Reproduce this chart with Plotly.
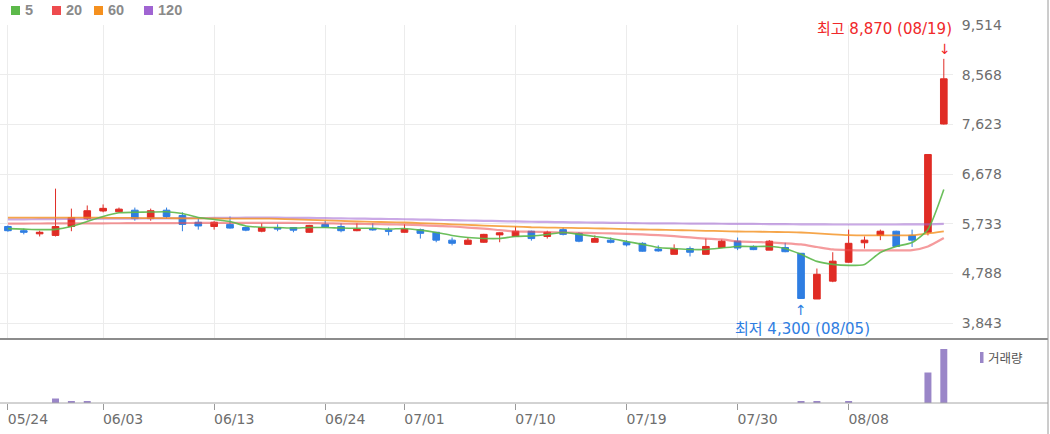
import plotly.graph_objects as go

# ---------------- data ----------------
dates = ["2024-05-24", "2024-05-27", "2024-05-28", "2024-05-29", "2024-05-30", "2024-05-31",
         "2024-06-03", "2024-06-04", "2024-06-05", "2024-06-07", "2024-06-10", "2024-06-11",
         "2024-06-12", "2024-06-13", "2024-06-14", "2024-06-17", "2024-06-18", "2024-06-19",
         "2024-06-20", "2024-06-21", "2024-06-24", "2024-06-25", "2024-06-26", "2024-06-27",
         "2024-06-28", "2024-07-01", "2024-07-02", "2024-07-03", "2024-07-04", "2024-07-05",
         "2024-07-08", "2024-07-09", "2024-07-10", "2024-07-11", "2024-07-12", "2024-07-15",
         "2024-07-16", "2024-07-17", "2024-07-18", "2024-07-19", "2024-07-22", "2024-07-23",
         "2024-07-24", "2024-07-25", "2024-07-26", "2024-07-29", "2024-07-30", "2024-07-31",
         "2024-08-01", "2024-08-02", "2024-08-05", "2024-08-06", "2024-08-07", "2024-08-08",
         "2024-08-09", "2024-08-12", "2024-08-13", "2024-08-14", "2024-08-16", "2024-08-19"]

opens = [5680, 5600, 5540, 5510, 5680, 5830, 5975, 5960, 5990, 5830, 5990, 5890, 5760, 5680, 5720,
         5660, 5590, 5660, 5660, 5570, 5720, 5680, 5600, 5640, 5610, 5570, 5620, 5570, 5420, 5340,
         5380, 5520, 5490, 5590, 5490, 5620, 5550, 5380, 5420, 5380, 5360, 5250, 5150, 5260, 5150,
         5280, 5400, 5300, 5230, 5280, 5170, 4300, 4640, 5000, 5370, 5510, 5590, 5510, 5570, 7630]
highs = [5700, 5640, 5600, 6400, 6020, 6080, 6100, 6040, 6040, 6020, 6040, 5950, 5830, 5780, 5870,
         5680, 5740, 5720, 5670, 5710, 5790, 5740, 5740, 5740, 5660, 5720, 5640, 5570, 5470, 5470,
         5540, 5570, 5680, 5600, 5600, 5660, 5570, 5510, 5470, 5420, 5380, 5320, 5340, 5300, 5450,
         5430, 5470, 5320, 5420, 5370, 5170, 4880, 5190, 5620, 5490, 5620, 5600, 5620, 7050, 8870]
lows = [5580, 5530, 5490, 5490, 5590, 5800, 5950, 5950, 5790, 5790, 5830, 5590, 5620, 5620, 5640,
        5590, 5570, 5590, 5570, 5560, 5660, 5570, 5590, 5600, 5510, 5560, 5450, 5380, 5320, 5340,
        5370, 5380, 5490, 5410, 5450, 5510, 5380, 5380, 5360, 5300, 5200, 5200, 5150, 5110, 5150,
        5280, 5230, 5230, 5230, 5190, 4300, 4300, 4620, 4990, 5260, 5420, 5290, 5290, 5510, 7620]
closes = [5600, 5570, 5570, 5680, 5850, 5980, 6025, 6010, 5830, 5980, 5870, 5720, 5690, 5760, 5650,
          5610, 5660, 5630, 5610, 5700, 5670, 5600, 5630, 5615, 5590, 5630, 5550, 5420, 5360, 5420,
          5530, 5560, 5590, 5450, 5570, 5530, 5400, 5450, 5380, 5330, 5210, 5215, 5260, 5190, 5300,
          5400, 5270, 5240, 5400, 5200, 4310, 4770, 5020, 5360, 5420, 5590, 5300, 5420, 7050, 8490]

volumes = [0, 0, 0, 450, 170, 170, 0, 0, 0, 0, 0, 0, 0, 0, 0,
           0, 0, 0, 0, 0, 0, 0, 0, 0, 0, 0, 0, 0, 0, 0,
           0, 0, 0, 0, 0, 0, 0, 0, 0, 0, 0, 0, 0, 0, 0,
           0, 0, 0, 0, 0, 170, 170, 0, 170, 0, 0, 0, 0, 3050, 5400]

ma5 = [5640, 5630, 5620, 5625, 5680, 5775, 5870, 5940, 5950, 5955, 5960, 5927, 5851, 5813, 5775,
       5690, 5665, 5660, 5650, 5660, 5660, 5650, 5645, 5645, 5630, 5642, 5610, 5566, 5510, 5470,
       5452, 5452, 5490, 5500, 5528, 5566, 5530, 5490, 5452, 5395, 5340, 5280, 5260, 5243, 5243,
       5270, 5300, 5300, 5300, 5262, 5150, 5016, 4959, 4940, 4959, 5186, 5300, 5376, 5623, 6382]
ma20 = [5735, 5736, 5737, 5738, 5739, 5740, 5741, 5742, 5743, 5744, 5745, 5746, 5747, 5748, 5749,
        5750, 5750, 5750, 5748, 5745, 5740, 5735, 5730, 5725, 5720, 5715, 5705, 5690, 5680, 5660,
        5640, 5610, 5585, 5580, 5575, 5566, 5560, 5555, 5547, 5540, 5528, 5515, 5495, 5471, 5450,
        5433, 5395, 5385, 5376, 5360, 5338, 5290, 5243, 5230, 5224, 5224, 5224, 5230, 5300, 5460]
ma60 = [5850, 5850, 5850, 5850, 5850, 5848, 5846, 5844, 5842, 5840, 5838, 5836, 5834, 5832, 5830,
        5830, 5830, 5825, 5815, 5805, 5795, 5785, 5775, 5768, 5762, 5756, 5745, 5735, 5722, 5710,
        5698, 5688, 5678, 5665, 5660, 5655, 5650, 5645, 5638, 5630, 5623, 5618, 5612, 5605, 5598,
        5592, 5585, 5582, 5578, 5572, 5566, 5550, 5530, 5515, 5510, 5510, 5510, 5515, 5545, 5585]
ma120 = [5815, 5817, 5819, 5821, 5823, 5825, 5827, 5829, 5831, 5833, 5835, 5838, 5840, 5842, 5845,
         5848, 5850, 5848, 5845, 5842, 5838, 5834, 5830, 5826, 5822, 5818, 5812, 5806, 5800, 5794,
         5788, 5782, 5776, 5770, 5766, 5762, 5758, 5754, 5750, 5746, 5742, 5740, 5738, 5736, 5734,
         5732, 5730, 5728, 5726, 5724, 5722, 5720, 5718, 5718, 5718, 5718, 5718, 5719, 5722, 5728]

x_tick_dates = ["2024-05-24", "2024-06-03", "2024-06-13", "2024-06-24", "2024-07-01",
                "2024-07-10", "2024-07-19", "2024-07-30", "2024-08-08"]
x_tick_text = ["05/24", "06/03", "06/13", "06/24", "07/01", "07/10", "07/19", "07/30", "08/08"]
y_ticks = [3843, 4788, 5733, 6678, 7623, 8568, 9514]

ma_names = ["5", "20", "60", "120"]
ma_colors = ["#5cb94a", "#ee4b4e", "#f5901e", "#a064d2"]

# ---------------- layout helpers (pixel -> paper) ----------------
PLOT_W = 953.0
TOP, BOT = 25.0, 403.0
PLOT_H = BOT - TOP


def px(x):
    return x / PLOT_W


def py(y):
    return (BOT - y) / PLOT_H


RED = "#e02c25"
BLUE = "#2f7ee2"
GRID = "#ececec"
LABEL = "#6e6e6e"
FONT = "DejaVu Sans, Noto Sans CJK KR, sans-serif"

fig = go.Figure()

# moving averages (under the candles)
for vals, col, w, op in [(ma120, ma_colors[3], 2.2, 0.55), (ma60, ma_colors[2], 1.8, 0.8),
                         (ma20, ma_colors[1], 2.2, 0.55), (ma5, ma_colors[0], 1.6, 0.9)]:
    fig.add_trace(go.Scatter(x=dates, y=vals, mode="lines", line=dict(color=col, width=w, shape="spline", smoothing=0.6),
                             opacity=op, showlegend=False, hoverinfo="skip", xaxis="x", yaxis="y"))

fig.add_trace(go.Candlestick(
    x=dates, open=opens, high=highs, low=lows, close=closes,
    increasing=dict(line=dict(color=RED, width=1), fillcolor=RED),
    decreasing=dict(line=dict(color=BLUE, width=1), fillcolor=BLUE),
    whiskerwidth=0, showlegend=False, xaxis="x", yaxis="y"))

fig.add_trace(go.Bar(x=dates, y=volumes, marker=dict(color="#9a86c8", line=dict(width=0)),
                     showlegend=False, xaxis="x2", yaxis="y2"))

vol_top = py(339)

fig.update_layout(
    width=1050, height=434,
    margin=dict(l=0, r=1050 - PLOT_W, t=TOP, b=434 - BOT, pad=0, autoexpand=False),
    paper_bgcolor="white", plot_bgcolor="white",
    boxgap=0.58, boxgroupgap=0, bargap=0.56,
    showlegend=False,
    xaxis=dict(type="category", categoryorder="array", categoryarray=dates,
               range=[-0.5, 59.58], domain=[0, 1], anchor="y", automargin=False,
               tickvals=x_tick_dates, showticklabels=False, ticks="",
               showgrid=True, gridcolor=GRID, gridwidth=1, zeroline=False, showline=False,
               rangeslider=dict(visible=False)),
    yaxis=dict(domain=[vol_top, 1], range=[3539, 9514], side="right", anchor="x", automargin=False,
               tickvals=y_ticks, tickformat=",d", showgrid=True, gridcolor=GRID, gridwidth=1,
               zeroline=False, showline=False, ticks="outside", ticklen=5, tickcolor="rgba(0,0,0,0)",
               tickfont=dict(family=FONT, size=14, color=LABEL)),
    xaxis2=dict(type="category", matches="x", anchor="y2", domain=[0, 1], automargin=False,
                tickvals=x_tick_dates, ticktext=x_tick_text, ticks="outside", ticklen=6,
                tickcolor="#9a9a9a", tickwidth=1, showgrid=False, zeroline=False, showline=False,
                ticklabelshift=20, ticklabelstandoff=-3,
                tickfont=dict(family=FONT, size=14, color=LABEL)),
    yaxis2=dict(domain=[0, vol_top], range=[0, 6400], visible=False, anchor="x2", automargin=False),
)

shapes = [
    dict(type="line", xref="paper", yref="paper", x0=0, x1=px(1048), y0=py(339), y1=py(339),
         line=dict(color="#8c8c8c", width=2)),
    dict(type="line", xref="paper", yref="paper", x0=0, x1=px(1048), y0=py(403), y1=py(403),
         line=dict(color="#a6a6a6", width=1)),
    dict(type="line", xref="paper", yref="paper", x0=px(1048), x1=px(1048), y0=py(434), y1=py(0),
         line=dict(color="#9a9a9a", width=1)),
    dict(type="rect", xref="paper", yref="paper", x0=px(980), x1=px(983.5), y0=py(363), y1=py(352),
         fillcolor="#9a86c8", line=dict(width=0)),
]
annotations = []

# MA legend (top-left)
leg_sq_x = [11, 52, 94, 144]
for sx, name, col in zip(leg_sq_x, ma_names, ma_colors):
    shapes.append(dict(type="rect", xref="paper", yref="paper", x0=px(sx), x1=px(sx + 9),
                       y0=py(15), y1=py(6), fillcolor=col, line=dict(width=0)))
    annotations.append(dict(xref="paper", yref="paper", x=px(sx + 12), y=py(10.5), xanchor="left",
                            yanchor="middle", text="<b>%s</b>" % name, showarrow=False,
                            font=dict(family="Liberation Sans, Arial, sans-serif", size=14.5, color="#8a8a8a")))

annotations.append(dict(xref="paper", yref="paper", x=px(986), y=py(357.5), xanchor="left", yanchor="middle",
                        text="거래량", showarrow=False,
                        font=dict(family="Noto Sans CJK KR, sans-serif", size=12.5, color="#555555")))

# high / low markers
hi_i = highs.index(max(highs))
lo_i = lows.index(min(lows))
hi_txt = "최고 {:,} ({})".format(highs[hi_i], dates[hi_i][5:].replace("-", "/"))
lo_txt = "최저 {:,} ({})".format(lows[lo_i], dates[lo_i][5:].replace("-", "/"))
annotations += [
    dict(x=dates[hi_i], y=highs[hi_i], xref="x", yref="y", text=hi_txt, showarrow=False,
         xanchor="right", yanchor="bottom", xshift=10, yshift=19,
         font=dict(family=FONT, size=15, color="#f0282a")),
    dict(x=dates[hi_i], y=highs[hi_i], xref="x", yref="y", text="↓", showarrow=False,
         xanchor="center", yanchor="bottom", xshift=1, yshift=0,
         font=dict(family=FONT, size=14, color="#f0282a")),
    dict(x=dates[lo_i], y=lows[lo_i], xref="x", yref="y", text=lo_txt, showarrow=False,
         xanchor="right", yanchor="top", xshift=71, yshift=-19,
         font=dict(family=FONT, size=15, color="#2f7ee2")),
    dict(x=dates[lo_i], y=lows[lo_i], xref="x", yref="y", text="↑", showarrow=False,
         xanchor="center", yanchor="top", xshift=0, yshift=-1,
         font=dict(family=FONT, size=14, color="#2f7ee2")),
]

fig.update_layout(shapes=shapes, annotations=annotations)

fig.write_html("out.html", config={"displayModeBar": False},
               post_script="document.body.style.margin='0';document.body.style.padding='0';")
